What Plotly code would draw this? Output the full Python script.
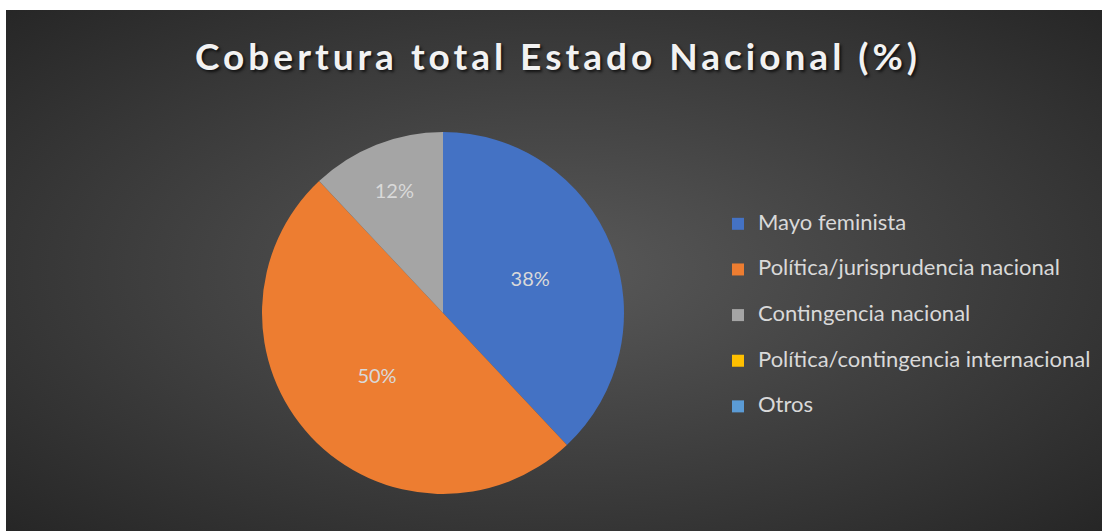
import base64
import plotly.graph_objects as go

# ---- data ----
categories = [
    "Mayo feminista",
    "Política/jurisprudencia nacional",
    "Contingencia nacional",
    "Política/contingencia internacional",
    "Otros",
]
values = [38, 50, 12, 0, 0]
colors = ["#4472C4", "#ED7D31", "#A5A5A5", "#FFC000", "#5B9BD5"]
title_text = "Cobertura total Estado Nacional (%)"

W, H = 1102, 531

# radial gradient background as an SVG image
svg = (
    '<svg xmlns="http://www.w3.org/2000/svg" width="1096" height="521" '
    'viewBox="0 0 1096 521" preserveAspectRatio="none">'
    '<defs><radialGradient id="g" cx="0.5" cy="0.5" r="0.71">'
    '<stop offset="0" stop-color="#595959"/>'
    '<stop offset="1" stop-color="#262626"/>'
    '</radialGradient></defs>'
    '<rect x="0" y="0" width="1096" height="521" fill="url(#g)"/></svg>'
)
bg_src = "data:image/svg+xml;base64," + base64.b64encode(svg.encode()).decode()

total = sum(values)
slice_text = [f"{round(v / total * 100)}%" if v > 0 else "" for v in values]
legend_labels = [
    f'<span style="font-size:22px;baseline-shift:7.4px">{c}</span>' for c in categories
]

fig = go.Figure(
    go.Pie(
        labels=legend_labels,
        values=values,
        text=slice_text,
        textinfo="text",
        textposition="inside",
        insidetextorientation="horizontal",
        textfont=dict(family="Lato", size=20, color="#D9D9D9"),
        marker=dict(colors=colors, line=dict(width=0)),
        sort=False,
        direction="clockwise",
        rotation=0,
        domain=dict(x=[262 / W, 624 / W], y=[(H - 494) / H, (H - 132) / H]),
        hoverinfo="label+percent",
    )
)

fig.update_layout(
    width=W,
    height=H,
    margin=dict(l=0, r=0, t=0, b=0),
    paper_bgcolor="white",
    plot_bgcolor="white",
    images=[
        dict(
            source=bg_src,
            xref="paper",
            yref="paper",
            x=6 / W,
            y=1 - 10 / H,
            sizex=1096 / W,
            sizey=521 / H,
            xanchor="left",
            yanchor="top",
            sizing="stretch",
            layer="below",
        )
    ],
    title=dict(
        text=f'<span style="letter-spacing:4px">{title_text}</span>',
        x=558 / W,
        xanchor="center",
        y=1 - 57 / H,
        yanchor="middle",
        font=dict(family="Lato", size=37, color="#F2F2F2", weight="bold",
                  shadow="2px 2px 3px rgba(0,0,0,0.7)"),
    ),
    showlegend=True,
    legend=dict(
        x=718 / W,
        xanchor="left",
        y=1 - 196 / H,
        yanchor="top",
        font=dict(family="Lato", size=32.8, color="#D9D9D9"),
        bgcolor="rgba(0,0,0,0)",
        borderwidth=0,
        traceorder="normal",
    ),
)

fig.write_html(
    "out.html",
    config={"displayModeBar": False},
    post_script="document.body.style.margin='0';",
)
